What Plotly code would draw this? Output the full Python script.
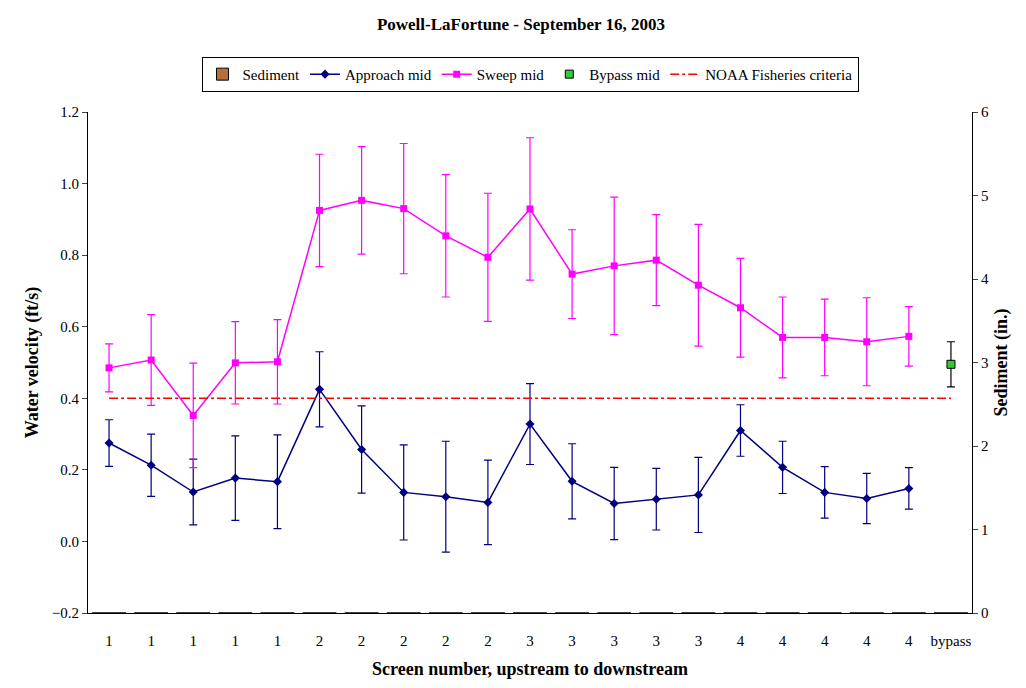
import plotly.graph_objects as go

labels = ["1"] * 5 + ["2"] * 5 + ["3"] * 5 + ["4"] * 5 + ["bypass"]
approach = [0.275, 0.213, 0.138, 0.177, 0.167, 0.425, 0.257, 0.137, 0.125, 0.109,
            0.328, 0.168, 0.106, 0.118, 0.130, 0.310, 0.207, 0.137, 0.120, 0.148]
approach_err = [0.065, 0.087, 0.092, 0.118, 0.131, 0.105, 0.122, 0.133, 0.155, 0.118,
                0.113, 0.105, 0.101, 0.086, 0.105, 0.072, 0.073, 0.072, 0.070, 0.058]
sweep = [0.485, 0.507, 0.352, 0.499, 0.502, 0.925, 0.953, 0.930, 0.854, 0.794,
         0.929, 0.747, 0.770, 0.786, 0.716, 0.653, 0.570, 0.570, 0.558, 0.573]
sweep_err = [0.067, 0.127, 0.146, 0.115, 0.118, 0.157, 0.150, 0.182, 0.171, 0.179,
             0.199, 0.124, 0.192, 0.127, 0.170, 0.138, 0.113, 0.107, 0.123, 0.083]
bypass = [0.495]
bypass_err = [0.063]
sediment = [0] * 21
noaa = 0.4

x = list(range(len(labels)))
font = "Liberation Serif"

fig = go.Figure()
fig.add_trace(go.Bar(x=x, y=sediment, name="Sediment", yaxis="y2",
                     marker=dict(color="#b5703a", line=dict(color="#000", width=1))))
fig.add_trace(go.Scatter(x=x[:20], y=approach, name="Approach mid", mode="lines+markers",
                         line=dict(color="#000080", width=1.5),
                         marker=dict(symbol="diamond", size=7, color="#000080"),
                         error_y=dict(type="data", array=approach_err, color="#000080",
                                      thickness=1.2, width=4)))
fig.add_trace(go.Scatter(x=x[:20], y=sweep, name="Sweep mid", mode="lines+markers",
                         line=dict(color="#ff00ff", width=1.5),
                         marker=dict(symbol="square", size=7, color="#ff00ff"),
                         error_y=dict(type="data", array=sweep_err, color="#ff00ff",
                                      thickness=1.2, width=4)))
fig.add_trace(go.Scatter(x=[x[20]], y=bypass, name="Bypass mid", mode="markers",
                         marker=dict(symbol="square", size=8, color="#33cc33",
                                     line=dict(color="#000", width=1)),
                         error_y=dict(type="data", array=bypass_err, color="#000",
                                      thickness=1.2, width=4)))
fig.add_trace(go.Scatter(x=[x[0], x[20]], y=[noaa, noaa], name="NOAA Fisheries criteria",
                         mode="lines", line=dict(color="#ff0000", width=1.5, dash="dashdot")))

fig.update_layout(
    width=1026, height=688, template=None,
    paper_bgcolor="white", plot_bgcolor="white",
    font=dict(family=font, size=15, color="#000"),
    title=dict(text="<b>Powell-LaFortune - September 16, 2003</b>", x=0.5, y=0.985,
               yanchor="top", font=dict(size=17)),
    margin=dict(l=80, r=62, t=104, b=83),
    legend=dict(orientation="h", x=0.5, xanchor="center", y=1.11, yanchor="top",
                bordercolor="#000", borderwidth=1, font=dict(size=15)),
    xaxis=dict(range=[-0.5, 20.5], tickmode="array", tickvals=x, ticktext=labels,
               showline=True, linecolor="#000", ticks="", showgrid=False, zeroline=False,
               ticklabelstandoff=14,
               title=dict(text="<b>Screen number, upstream to downstream</b>", standoff=14)),
    yaxis=dict(range=[-0.2, 1.2], dtick=0.2, tickformat=".1f", showline=True,
               linecolor="#000", ticks="outside", showgrid=False, zeroline=False,
               title=dict(text="<b>Water velocity (ft/s)</b>", standoff=8)),
    yaxis2=dict(range=[0, 6], dtick=1, overlaying="y", side="right", showline=True,
                linecolor="#000", ticks="outside", showgrid=False, zeroline=False,
                title=dict(text="<b>Sediment (in.)</b>", standoff=6)),
)
fig.write_html("out.html")
